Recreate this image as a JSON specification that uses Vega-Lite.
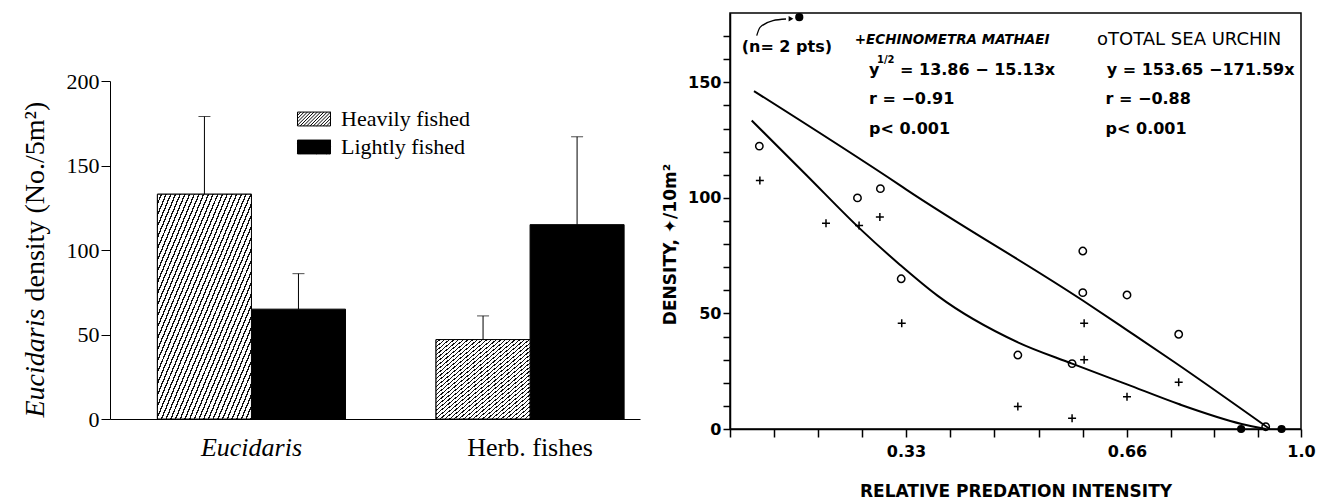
{
  "$schema": "https://vega.github.io/schema/vega-lite/v6.json",
  "background": "white",
  "autosize": {"type": "pad"},
  "padding": {"left": 21, "top": 10, "right": 5, "bottom": 0},
  "bounds": "flush",
  "spacing": 90,
  "resolve": {
    "scale": {"fill": "independent", "shape": "independent", "size": "independent"},
    "legend": {"fill": "independent", "shape": "independent", "size": "independent"}
  },
  "config": {
    "view": {"stroke": null},
    "font": "DejaVu Sans",
    "axis": {"domainColor": "black", "tickColor": "black", "labelColor": "black", "titleColor": "black", "grid": false}
  },
  "datasets": {
    "bars": [
      {"group": "Eucidaris", "level": "Heavily fished", "value": 133, "upper": 179},
      {"group": "Eucidaris", "level": "Lightly fished", "value": 65, "upper": 86},
      {"group": "Herb. fishes", "level": "Heavily fished", "value": 47, "upper": 61},
      {"group": "Herb. fishes", "level": "Lightly fished", "value": 115, "upper": 167}
    ],
    "points": [
      {"species": "Total sea urchin", "x": 0.055, "y": 122.4},
      {"species": "Total sea urchin", "x": 0.239, "y": 100},
      {"species": "Total sea urchin", "x": 0.282, "y": 104},
      {"species": "Total sea urchin", "x": 0.321, "y": 65},
      {"species": "Total sea urchin", "x": 0.497, "y": 32},
      {"species": "Total sea urchin", "x": 0.578, "y": 28.3},
      {"species": "Total sea urchin", "x": 0.594, "y": 77},
      {"species": "Total sea urchin", "x": 0.594, "y": 59},
      {"species": "Total sea urchin", "x": 0.66, "y": 58},
      {"species": "Total sea urchin", "x": 0.761, "y": 41},
      {"species": "Total sea urchin", "x": 0.931, "y": 1},
      {"species": "Echinometra mathaei", "x": 0.056, "y": 107.5},
      {"species": "Echinometra mathaei", "x": 0.18, "y": 89},
      {"species": "Echinometra mathaei", "x": 0.242, "y": 88},
      {"species": "Echinometra mathaei", "x": 0.281, "y": 91.7},
      {"species": "Echinometra mathaei", "x": 0.322, "y": 45.8},
      {"species": "Echinometra mathaei", "x": 0.497, "y": 9.7},
      {"species": "Echinometra mathaei", "x": 0.578, "y": 4.6},
      {"species": "Echinometra mathaei", "x": 0.596, "y": 45.8},
      {"species": "Echinometra mathaei", "x": 0.596, "y": 30},
      {"species": "Echinometra mathaei", "x": 0.66, "y": 14},
      {"species": "Echinometra mathaei", "x": 0.761, "y": 20.2},
      {"species": "Both", "x": 0.883, "y": 0},
      {"species": "Both", "x": 0.962, "y": 0},
      {"species": "Both", "x": 0.1299, "y": 178.2}
    ],
    "fits": [
      {"curve": "Total sea urchin", "x": 0.045, "y": 146.2},
      {"curve": "Total sea urchin", "x": 0.319, "y": 105.4},
      {"curve": "Total sea urchin", "x": 0.33, "y": 103.7},
      {"curve": "Total sea urchin", "x": 0.594, "y": 55.6},
      {"curve": "Total sea urchin", "x": 0.66, "y": 42.8},
      {"curve": "Total sea urchin", "x": 0.753, "y": 28.9},
      {"curve": "Total sea urchin", "x": 0.939, "y": 0},
      {"curve": "Echinometra mathaei", "x": 0.0407, "y": 133.5},
      {"curve": "Echinometra mathaei", "x": 0.144, "y": 109.7},
      {"curve": "Echinometra mathaei", "x": 0.244, "y": 86.6},
      {"curve": "Echinometra mathaei", "x": 0.319, "y": 71},
      {"curve": "Echinometra mathaei", "x": 0.377, "y": 57.7},
      {"curve": "Echinometra mathaei", "x": 0.497, "y": 37.5},
      {"curve": "Echinometra mathaei", "x": 0.578, "y": 28.3},
      {"curve": "Echinometra mathaei", "x": 0.66, "y": 19.3},
      {"curve": "Echinometra mathaei", "x": 0.761, "y": 10.8},
      {"curve": "Echinometra mathaei", "x": 0.884, "y": 2.2},
      {"curve": "Echinometra mathaei", "x": 0.931, "y": 0}
    ],
    "arrow": [
      {"part": "shaft", "x": 0.0501, "y": 170.2},
      {"part": "shaft", "x": 0.0563, "y": 173.8},
      {"part": "shaft", "x": 0.0806, "y": 176.7},
      {"part": "shaft", "x": 0.105, "y": 177.4},
      {"part": "head", "x": 0.1144, "y": 177.5}
    ],
    "notes": [
      {"kind": "bold", "text": "(n= 2 pts)", "x": 0.0219, "y": 165.5},
      {"kind": "italic", "text": "+ECHINOMETRA MATHAEI", "x": 0.234, "y": 168.3},
      {"kind": "plain", "text": "oTOTAL SEA URCHIN", "x": 0.6152, "y": 168.3},
      {"kind": "bold", "text": "y", "x": 0.2606, "y": 155.2},
      {"kind": "exponent", "text": "1/2", "x": 0.2756, "y": 159.5},
      {"kind": "bold", "text": "= 13.86 − 15.13x", "x": 0.3188, "y": 155.2},
      {"kind": "bold", "text": "r = −0.91", "x": 0.2606, "y": 142.6},
      {"kind": "bold", "text": "p< 0.001", "x": 0.2606, "y": 130},
      {"kind": "bold", "text": "y = 153.65 −171.59x", "x": 0.6297, "y": 155.2},
      {"kind": "bold", "text": "r = −0.88", "x": 0.628, "y": 142.6},
      {"kind": "bold", "text": "p< 0.001", "x": 0.628, "y": 130}
    ]
  },
  "hconcat": [
    {
      "width": 530,
      "height": 406,
      "data": {"name": "bars"},
      "encoding": {
        "x": {
          "field": "group", "type": "nominal", "sort": ["Eucidaris", "Herb. fishes"],
          "scale": {"paddingInner": 0.325, "paddingOuter": 0.1136, "align": 0.749},
          "axis": {
            "title": null, "ticks": false, "domain": true, "domainWidth": 1.2, "labelAngle": 0,
            "labelFont": "Liberation Serif", "labelFontSize": 26, "labelPadding": 15,
            "labelFontStyle": {"condition": {"test": "datum.value == 'Eucidaris'", "value": "italic"}, "value": "normal"}
          }
        },
        "xOffset": {
          "field": "level", "type": "nominal", "sort": ["Heavily fished", "Lightly fished"],
          "scale": {"paddingInner": 0, "paddingOuter": 0}
        }
      },
      "layer": [
        {
          "mark": {"type": "bar", "stroke": "black", "strokeWidth": 1},
          "encoding": {
            "y": {
              "field": "value", "type": "quantitative",
              "scale": {"domain": [0, 200], "range": [406, 68], "nice": false},
              "axis": {
                "values": [0, 50, 100, 150, 200], "title": "density (No./5m²)",
                "titleFont": "Liberation Serif", "titleFontSize": 28, "titleFontWeight": "normal",
                "titleAngle": 270, "titleAlign": "left", "titleBaseline": "alphabetic", "titleX": -67, "titleY": 288,
                "labelFont": "Liberation Serif", "labelFontSize": 22, "labelPadding": 2,
                "tickSize": 9, "tickWidth": 1, "domainWidth": 1
              }
            },
            "fill": {
              "field": "level", "type": "nominal",
              "scale": {"domain": ["Heavily fished", "Lightly fished"], "range": ["white", "black"]},
              "legend": {
                "orient": "none", "legendX": 187, "legendY": 89, "title": null, "padding": 0,
                "symbolType": "M-1,-0.42H1V0.42H-1Z M-1,-0.22L-0.8,-0.42 M-1,-0.02L-0.6,-0.42 M-1,0.18L-0.4,-0.42 M-1,0.38L-0.2,-0.42 M-0.84,0.42L0,-0.42 M-0.64,0.42L0.2,-0.42 M-0.44,0.42L0.4,-0.42 M-0.24,0.42L0.6,-0.42 M-0.04,0.42L0.8,-0.42 M0.16,0.42L1,-0.42 M0.36,0.42L1,-0.22 M0.56,0.42L1,-0.02 M0.76,0.42L1,0.18 M0.96,0.42L1,0.38",
                "symbolSize": 1089,
                "symbolStrokeColor": "black", "symbolStrokeWidth": 1,
                "labelFont": "Liberation Serif", "labelFontSize": 22, "labelColor": "black",
                "labelOffset": 10, "rowPadding": 0
              }
            }
          }
        },
        {
          "transform": [{"filter": "datum.level == 'Heavily fished'"}],
          "mark": {
            "type": "bar", "stroke": "black", "strokeWidth": 1,
            "fill": {"gradient": "linear", "x1": 0, "y1": 0, "x2": 1, "y2": 1, "stops": [
              {"offset": 0, "color": "#fff"}, {"offset": 0.0175, "color": "#fff"}, {"offset": 0.0175, "color": "#111"}, {"offset": 0.025, "color": "#111"},
              {"offset": 0.025, "color": "#fff"}, {"offset": 0.0425, "color": "#fff"}, {"offset": 0.0425, "color": "#111"}, {"offset": 0.05, "color": "#111"},
              {"offset": 0.05, "color": "#fff"}, {"offset": 0.0675, "color": "#fff"}, {"offset": 0.0675, "color": "#111"}, {"offset": 0.075, "color": "#111"},
              {"offset": 0.075, "color": "#fff"}, {"offset": 0.0925, "color": "#fff"}, {"offset": 0.0925, "color": "#111"}, {"offset": 0.1, "color": "#111"},
              {"offset": 0.1, "color": "#fff"}, {"offset": 0.1175, "color": "#fff"}, {"offset": 0.1175, "color": "#111"}, {"offset": 0.125, "color": "#111"},
              {"offset": 0.125, "color": "#fff"}, {"offset": 0.1425, "color": "#fff"}, {"offset": 0.1425, "color": "#111"}, {"offset": 0.15, "color": "#111"},
              {"offset": 0.15, "color": "#fff"}, {"offset": 0.1675, "color": "#fff"}, {"offset": 0.1675, "color": "#111"}, {"offset": 0.175, "color": "#111"},
              {"offset": 0.175, "color": "#fff"}, {"offset": 0.1925, "color": "#fff"}, {"offset": 0.1925, "color": "#111"}, {"offset": 0.2, "color": "#111"},
              {"offset": 0.2, "color": "#fff"}, {"offset": 0.2175, "color": "#fff"}, {"offset": 0.2175, "color": "#111"}, {"offset": 0.225, "color": "#111"},
              {"offset": 0.225, "color": "#fff"}, {"offset": 0.2425, "color": "#fff"}, {"offset": 0.2425, "color": "#111"}, {"offset": 0.25, "color": "#111"},
              {"offset": 0.25, "color": "#fff"}, {"offset": 0.2675, "color": "#fff"}, {"offset": 0.2675, "color": "#111"}, {"offset": 0.275, "color": "#111"},
              {"offset": 0.275, "color": "#fff"}, {"offset": 0.2925, "color": "#fff"}, {"offset": 0.2925, "color": "#111"}, {"offset": 0.3, "color": "#111"},
              {"offset": 0.3, "color": "#fff"}, {"offset": 0.3175, "color": "#fff"}, {"offset": 0.3175, "color": "#111"}, {"offset": 0.325, "color": "#111"},
              {"offset": 0.325, "color": "#fff"}, {"offset": 0.3425, "color": "#fff"}, {"offset": 0.3425, "color": "#111"}, {"offset": 0.35, "color": "#111"},
              {"offset": 0.35, "color": "#fff"}, {"offset": 0.3675, "color": "#fff"}, {"offset": 0.3675, "color": "#111"}, {"offset": 0.375, "color": "#111"},
              {"offset": 0.375, "color": "#fff"}, {"offset": 0.3925, "color": "#fff"}, {"offset": 0.3925, "color": "#111"}, {"offset": 0.4, "color": "#111"},
              {"offset": 0.4, "color": "#fff"}, {"offset": 0.4175, "color": "#fff"}, {"offset": 0.4175, "color": "#111"}, {"offset": 0.425, "color": "#111"},
              {"offset": 0.425, "color": "#fff"}, {"offset": 0.4425, "color": "#fff"}, {"offset": 0.4425, "color": "#111"}, {"offset": 0.45, "color": "#111"},
              {"offset": 0.45, "color": "#fff"}, {"offset": 0.4675, "color": "#fff"}, {"offset": 0.4675, "color": "#111"}, {"offset": 0.475, "color": "#111"},
              {"offset": 0.475, "color": "#fff"}, {"offset": 0.4925, "color": "#fff"}, {"offset": 0.4925, "color": "#111"}, {"offset": 0.5, "color": "#111"},
              {"offset": 0.5, "color": "#fff"}, {"offset": 0.5175, "color": "#fff"}, {"offset": 0.5175, "color": "#111"}, {"offset": 0.525, "color": "#111"},
              {"offset": 0.525, "color": "#fff"}, {"offset": 0.5425, "color": "#fff"}, {"offset": 0.5425, "color": "#111"}, {"offset": 0.55, "color": "#111"},
              {"offset": 0.55, "color": "#fff"}, {"offset": 0.5675, "color": "#fff"}, {"offset": 0.5675, "color": "#111"}, {"offset": 0.575, "color": "#111"},
              {"offset": 0.575, "color": "#fff"}, {"offset": 0.5925, "color": "#fff"}, {"offset": 0.5925, "color": "#111"}, {"offset": 0.6, "color": "#111"},
              {"offset": 0.6, "color": "#fff"}, {"offset": 0.6175, "color": "#fff"}, {"offset": 0.6175, "color": "#111"}, {"offset": 0.625, "color": "#111"},
              {"offset": 0.625, "color": "#fff"}, {"offset": 0.6425, "color": "#fff"}, {"offset": 0.6425, "color": "#111"}, {"offset": 0.65, "color": "#111"},
              {"offset": 0.65, "color": "#fff"}, {"offset": 0.6675, "color": "#fff"}, {"offset": 0.6675, "color": "#111"}, {"offset": 0.675, "color": "#111"},
              {"offset": 0.675, "color": "#fff"}, {"offset": 0.6925, "color": "#fff"}, {"offset": 0.6925, "color": "#111"}, {"offset": 0.7, "color": "#111"},
              {"offset": 0.7, "color": "#fff"}, {"offset": 0.7175, "color": "#fff"}, {"offset": 0.7175, "color": "#111"}, {"offset": 0.725, "color": "#111"},
              {"offset": 0.725, "color": "#fff"}, {"offset": 0.7425, "color": "#fff"}, {"offset": 0.7425, "color": "#111"}, {"offset": 0.75, "color": "#111"},
              {"offset": 0.75, "color": "#fff"}, {"offset": 0.7675, "color": "#fff"}, {"offset": 0.7675, "color": "#111"}, {"offset": 0.775, "color": "#111"},
              {"offset": 0.775, "color": "#fff"}, {"offset": 0.7925, "color": "#fff"}, {"offset": 0.7925, "color": "#111"}, {"offset": 0.8, "color": "#111"},
              {"offset": 0.8, "color": "#fff"}, {"offset": 0.8175, "color": "#fff"}, {"offset": 0.8175, "color": "#111"}, {"offset": 0.825, "color": "#111"},
              {"offset": 0.825, "color": "#fff"}, {"offset": 0.8425, "color": "#fff"}, {"offset": 0.8425, "color": "#111"}, {"offset": 0.85, "color": "#111"},
              {"offset": 0.85, "color": "#fff"}, {"offset": 0.8675, "color": "#fff"}, {"offset": 0.8675, "color": "#111"}, {"offset": 0.875, "color": "#111"},
              {"offset": 0.875, "color": "#fff"}, {"offset": 0.8925, "color": "#fff"}, {"offset": 0.8925, "color": "#111"}, {"offset": 0.9, "color": "#111"},
              {"offset": 0.9, "color": "#fff"}, {"offset": 0.9175, "color": "#fff"}, {"offset": 0.9175, "color": "#111"}, {"offset": 0.925, "color": "#111"},
              {"offset": 0.925, "color": "#fff"}, {"offset": 0.9425, "color": "#fff"}, {"offset": 0.9425, "color": "#111"}, {"offset": 0.95, "color": "#111"},
              {"offset": 0.95, "color": "#fff"}, {"offset": 0.9675, "color": "#fff"}, {"offset": 0.9675, "color": "#111"}, {"offset": 0.975, "color": "#111"},
              {"offset": 0.975, "color": "#fff"}, {"offset": 0.9925, "color": "#fff"}, {"offset": 0.9925, "color": "#111"}, {"offset": 1, "color": "#111"}
            ]}
          },
          "encoding": {"y": {"field": "value", "type": "quantitative", "axis": null}}
        },
        {
          "mark": {"type": "rule", "color": "black", "strokeWidth": 1},
          "encoding": {
            "y": {
              "field": "value", "type": "quantitative",
              "axis": {
                "orient": "left", "domain": false, "ticks": false, "labels": false, "grid": false,
                "title": "Eucidaris", "titleFont": "Liberation Serif", "titleFontSize": 28,
                "titleFontStyle": "italic", "titleFontWeight": "normal",
                "titleAngle": 270, "titleAlign": "left", "titleBaseline": "alphabetic", "titleX": -67, "titleY": 404
              }
            },
            "y2": {"field": "upper"}
          }
        },
        {
          "mark": {"type": "tick", "orient": "horizontal", "color": "black", "size": 12, "thickness": 1},
          "encoding": {"y": {"field": "upper", "type": "quantitative", "axis": null}}
        }
      ],
      "resolve": {"axis": {"y": "independent"}}
    },
    {
      "width": 571,
      "height": 416,
      "view": {"stroke": "black", "strokeWidth": 1.5},
      "encoding": {
        "x": {
          "field": "x", "type": "quantitative",
          "scale": {"domain": [0, 0.33, 0.66, 1], "range": [0, 176, 397, 571], "nice": false, "zero": false},
          "axis": {
            "values": [0, 0.0825, 0.165, 0.2475, 0.33, 0.396, 0.462, 0.528, 0.594, 0.66, 0.745, 0.83, 0.915, 1],
            "labelExpr": "datum.value == 0.33 ? '0.33' : datum.value == 0.66 ? '0.66' : datum.value == 1 ? '1.0' : ''",
            "labelFlush": false, "labelOverlap": false,
            "title": "RELATIVE PREDATION INTENSITY",
            "tickSize": 8, "tickWidth": 1.5, "domainWidth": 1.5,
            "labelFont": "DejaVu Sans", "labelFontWeight": "bold", "labelFontSize": 16, "labelPadding": 6,
            "titleFont": "DejaVu Sans", "titleFontWeight": "bold", "titleFontSize": 17, "titlePadding": 24
          }
        },
        "y": {
          "field": "y", "type": "quantitative",
          "scale": {"domain": [0, 180], "nice": false},
          "axis": {
            "values": [0, 10, 20, 30, 40, 50, 60, 70, 80, 90, 100, 110, 120, 130, 140, 150, 160, 170],
            "labelExpr": "datum.value % 50 === 0 ? datum.label : ''",
            "labelOverlap": false,
            "title": "DENSITY, ✦/10m²",
            "tickSize": 7, "tickWidth": 1.5, "domainWidth": 1.5,
            "labelFont": "DejaVu Sans", "labelFontWeight": "bold", "labelFontSize": 16, "labelPadding": 2,
            "titleFont": "DejaVu Sans", "titleFontWeight": "bold", "titleFontSize": 17, "titlePadding": 8, "titleY": 231
          }
        }
      },
      "layer": [
        {
          "data": {"name": "fits"},
          "mark": {"type": "line", "color": "black", "strokeWidth": 2, "interpolate": "monotone"},
          "encoding": {"detail": {"field": "curve", "type": "nominal"}}
        },
        {
          "data": {"name": "arrow"},
          "transform": [{"filter": "datum.part == 'shaft'"}],
          "mark": {"type": "line", "color": "black", "strokeWidth": 1.3, "interpolate": "monotone"},
          "encoding": {}
        },
        {
          "data": {"name": "arrow"},
          "transform": [{"filter": "datum.part == 'head'"}],
          "mark": {"type": "point", "shape": "triangle-right", "filled": true, "color": "black", "size": 30, "opacity": 1},
          "encoding": {}
        },
        {
          "data": {"name": "points"},
          "mark": {"type": "point", "stroke": "black", "strokeWidth": 1.5, "opacity": 1},
          "encoding": {
            "shape": {
              "field": "species", "type": "nominal",
              "scale": {"domain": ["Echinometra mathaei", "Total sea urchin", "Both"], "range": ["M-1,0H1M0,-1V1", "circle", "circle"]},
              "legend": null
            },
            "fill": {
              "field": "species", "type": "nominal",
              "scale": {"domain": ["Echinometra mathaei", "Total sea urchin", "Both"], "range": ["rgba(0,0,0,0)", "rgba(0,0,0,0)", "black"]},
              "legend": null
            },
            "size": {
              "field": "species", "type": "nominal",
              "scale": {"domain": ["Echinometra mathaei", "Total sea urchin", "Both"], "range": [64, 45, 45]},
              "legend": null
            }
          }
        },
        {
          "data": {"name": "notes"},
          "transform": [{"filter": "datum.kind == 'bold'"}],
          "mark": {"type": "text", "align": "left", "baseline": "middle", "font": "DejaVu Sans", "fontWeight": "bold", "fontSize": 16, "color": "black"},
          "encoding": {"text": {"field": "text"}}
        },
        {
          "data": {"name": "notes"},
          "transform": [{"filter": "datum.kind == 'italic'"}],
          "mark": {"type": "text", "align": "left", "baseline": "middle", "font": "DejaVu Sans", "fontWeight": "bold", "fontStyle": "italic", "fontSize": 13.5, "color": "black"},
          "encoding": {"text": {"field": "text"}}
        },
        {
          "data": {"name": "notes"},
          "transform": [{"filter": "datum.kind == 'plain'"}],
          "mark": {"type": "text", "align": "left", "baseline": "middle", "font": "DejaVu Sans", "fontSize": 18, "color": "black"},
          "encoding": {"text": {"field": "text"}}
        },
        {
          "data": {"name": "notes"},
          "transform": [{"filter": "datum.kind == 'exponent'"}],
          "mark": {"type": "text", "align": "left", "baseline": "middle", "font": "DejaVu Sans", "fontWeight": "bold", "fontSize": 10, "color": "black"},
          "encoding": {"text": {"field": "text"}}
        }
      ]
    }
  ]
}
